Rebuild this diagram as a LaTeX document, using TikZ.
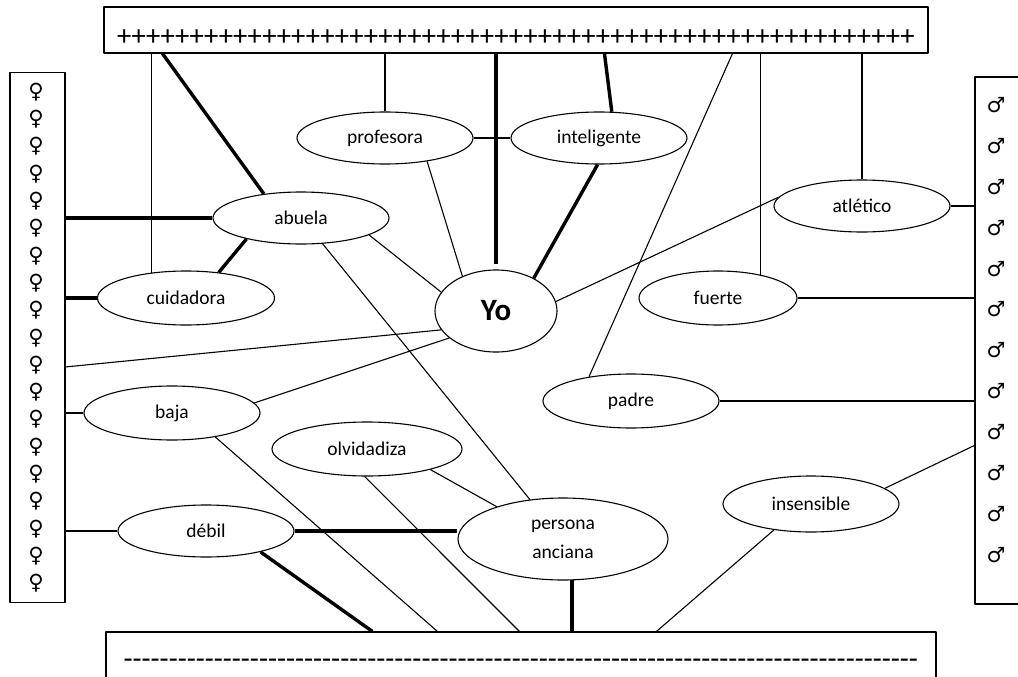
\documentclass[tikz,border=0pt]{standalone}
\usepackage{fontspec}
\setmainfont{Carlito}
\newfontfamily\plainfont{Carlito}
\newfontfamily\signfont{DejaVu Sans}
\usetikzlibrary{shapes}
\usetikzlibrary{calc}

\begin{document}
\begin{tikzpicture}[x=1pt,y=-1pt,line join=round,
    word node/.style={ellipse,draw,line width=1.1pt,inner sep=0pt,minimum width=176,minimum height=52,
                      align=center,font=\fontsize{19.5}{29}\selectfont},
    bar node/.style={rectangle,draw,line width=1.1pt,inner sep=0pt},
    sign/.style={inner sep=0pt,font=\signfont\fontsize{21}{21}\selectfont},
    weak/.style={line width=1.1pt},
    strong/.style={line width=3.4pt}]

  \useasboundingbox (0,0) rectangle (1018,677);

  % the four bars
  \node[bar node,minimum width=824,minimum height=46] (plus) at (516,30)
    {\raisebox{-15.5pt}[0pt][0pt]{\plainfont\fontsize{28.7}{30}\selectfont +++++++++++++++++++++++++++++++++++++++++++++++++++++++}};
  \node[bar node,minimum width=55,minimum height=530] (fem) at (37.5,337.5) {};
  \node[bar node,minimum width=56,minimum height=527] (masc) at (1003,340.5) {};
  \node[bar node,minimum width=830,minimum height=78] (minus) at (521,671)
    {\raisebox{3pt}[0pt][0pt]{\plainfont\fontsize{29.5}{30}\selectfont ----------------------------------------------------------------------------------------}};

  \foreach \i in {0,...,18}
    \node[sign] (f\i) at (36,{92+27.3*\i}) {♀};
  \foreach \i in {0,...,11}
    \node[sign] (m\i) at (996,{105+40.9*\i}) {♂};

  % the words
  \node[word node] (prof) at (385,138) {profesora};
  \node[word node] (intel) at (599,138) {inteligente};
  \node[word node] (abuela) at (301,218) {abuela};
  \node[word node,minimum width=177,minimum height=54] (cuid) at (186,298) {cuidadora};
  \node[word node,minimum width=122,minimum height=82,font=\fontsize{31}{31}\selectfont\bfseries] (yo) at (496,311) {Yo};
  \node[word node] (atl) at (862,206) {atlético};
  \node[word node,minimum width=158,minimum height=54] (fuerte) at (718,298) {fuerte};
  \node[word node,minimum height=54] (padre) at (631,401) {padre};
  \node[word node,minimum height=54] (baja) at (172,413) {baja};
  \node[word node,minimum width=190,minimum height=54] (olv) at (367,449) {olvidadiza};
  \node[word node] (debil) at (206,531) {débil};
  \node[word node,minimum width=210,minimum height=82] (anciana) at (563,539) {persona\\anciana};
  \node[word node,minimum height=56] (insens) at (811,504) {insensible};

  \path[every edge/.append style={weak}]
    (cuid.144) edge (cuid.144 |- plus.south)
    ([xshift=59pt]plus.south west) edge[strong] (abuela.147)
    (prof.north) edge (prof.north |- plus.south)
    (yo.north) edge[strong,shorten <=5pt] (yo.north |- plus.south)
    ([xshift=501pt]plus.south west) edge[strong] (intel.64)
    ([xshift=629pt]plus.south west) edge (padre.150)
    (fuerte.29) edge (fuerte.29 |- plus.south)
    (atl.north) edge (atl.north |- plus.south)
    (prof.east) edge (intel.west)
    (prof.-29) edge (yo.134)
    (intel.-93) edge[strong] (yo.41)
    (abuela.-14) edge (yo.161)
    (abuela.-50) edge (anciana.130)
    (abuela.201) edge[strong] (cuid.38)
    (abuela.west) edge[strong] (abuela.west -| fem.east)
    (cuid.west) edge[strong] (cuid.west -| fem.east)
    ([yshift=-295pt]fem.north east) edge (yo.199)
    (baja.7) edge (yo.210)
    (baja.west) edge (baja.west -| fem.east)
    (debil.west) edge (debil.west -| fem.east)
    (baja.-29) edge ([xshift=332pt]minus.north west)
    (debil.east) edge[strong] (debil.east -| anciana.west)
    (debil.-21) edge[strong] ([xshift=267pt]minus.north west)
    (olv.-18) edge (anciana.154)
    (olv.-95) edge ([xshift=414pt]minus.north west)
    (anciana.-78) edge[strong] (anciana.-78 |- minus.north)
    (insens.215) edge ([xshift=551pt]minus.north west)
    (insens.12) edge ([yshift=-369pt]masc.north west)
    (padre.east) edge (padre.east -| masc.west)
    (fuerte.east) edge (fuerte.east -| masc.west)
    (atl.east) edge (atl.east -| masc.west)
    (yo.9) edge (atl.174);

\end{tikzpicture}
\end{document}
